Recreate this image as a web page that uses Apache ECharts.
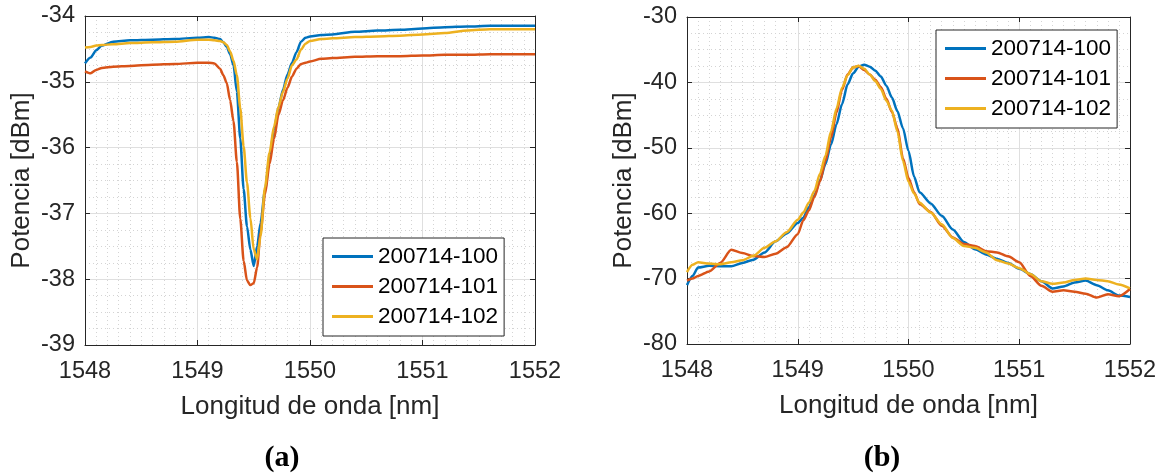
<!DOCTYPE html>
<html>
<head>
<meta charset="utf-8">
<script src="https://cdn.jsdelivr.net/npm/echarts@6/dist/echarts.min.js"></script>
<style>
  html, body { margin: 0; padding: 0; background: #ffffff; }
  #chart { width: 1164px; height: 476px; }
</style>
</head>
<body>
<div id="chart"></div>
<script>
// Sample names shown in both legends
const sampleNames = ['200714-100', '200714-101', '200714-102'];
const lineColors = ['#0072BD', '#D95319', '#EDB120'];

// (a) transmission dip: wavelength [nm] and power [dBm]
const wavelengthA = [
  1548.00, 1548.05, 1548.10, 1548.15, 1548.25, 1548.40, 1548.60, 1548.80, 1549.00, 1549.10,
  1549.15, 1549.20, 1549.23, 1549.26, 1549.29, 1549.32, 1549.35, 1549.38, 1549.41, 1549.44,
  1549.47, 1549.50, 1549.53, 1549.56, 1549.60, 1549.64, 1549.68, 1549.72, 1549.76, 1549.80,
  1549.84, 1549.88, 1549.92, 1549.96, 1550.00, 1550.10, 1550.20, 1550.40, 1550.60, 1550.80,
  1551.00, 1551.20, 1551.40, 1551.60, 1551.80, 1552.00
];
const powerA100 = [
  -34.72, -34.63, -34.52, -34.45, -34.39, -34.37, -34.36, -34.35, -34.33, -34.32,
  -34.33, -34.35, -34.40, -34.47, -34.58, -34.75, -35.15, -35.86, -36.63, -37.20,
  -37.55, -37.80, -37.50, -37.15, -36.65, -36.16, -35.73, -35.39, -35.12, -34.89,
  -34.71, -34.55, -34.39, -34.33, -34.31, -34.29, -34.28, -34.24, -34.22, -34.21,
  -34.19, -34.17, -34.16, -34.15, -34.15, -34.15
];
const powerA101 = [
  -34.84, -34.87, -34.82, -34.79, -34.77, -34.76, -34.74, -34.73, -34.71, -34.71,
  -34.72, -34.80, -34.90, -35.02, -35.28, -35.60, -36.22, -37.08, -37.72, -38.02,
  -38.09, -38.06, -37.82, -37.30, -36.71, -36.25, -35.87, -35.50, -35.28, -35.09,
  -34.92, -34.80, -34.73, -34.71, -34.69, -34.65, -34.64, -34.62, -34.61, -34.61,
  -34.60, -34.59, -34.59, -34.58, -34.58, -34.58
];
const powerA102 = [
  -34.48, -34.47, -34.45, -34.44, -34.43, -34.41, -34.40, -34.39, -34.36, -34.36,
  -34.37, -34.38, -34.40, -34.44, -34.54, -34.68, -34.90, -35.40, -35.98, -36.53,
  -37.07, -37.55, -37.70, -37.35, -36.60, -36.08, -35.68, -35.38, -35.15, -34.95,
  -34.75, -34.66, -34.51, -34.42, -34.38, -34.35, -34.34, -34.32, -34.31, -34.30,
  -34.28, -34.26, -34.22, -34.20, -34.20, -34.20
];

// (b) reflection peak: wavelength [nm] and power [dBm]
const wavelengthB = [
  1548.00, 1548.05, 1548.10, 1548.20, 1548.30, 1548.40, 1548.50, 1548.60, 1548.70, 1548.80,
  1548.90, 1549.00, 1549.05, 1549.10, 1549.15, 1549.20, 1549.25, 1549.30, 1549.35, 1549.40,
  1549.45, 1549.50, 1549.55, 1549.60, 1549.65, 1549.70, 1549.75, 1549.80, 1549.85, 1549.90,
  1549.95, 1550.00, 1550.05, 1550.10, 1550.20, 1550.30, 1550.40, 1550.50, 1550.60, 1550.70,
  1550.80, 1550.90, 1551.00, 1551.10, 1551.20, 1551.30, 1551.40, 1551.50, 1551.60, 1551.70,
  1551.80, 1551.90, 1552.00
];
const powerB100 = [
  -71.0, -69.6, -68.3, -68.05, -68.1, -68.12, -67.6, -67.1, -66.0, -64.3,
  -63.1, -61.5, -60.7, -59.1, -57.3, -55.0, -52.5, -49.5, -46.4, -43.3,
  -40.3, -38.6, -37.6, -37.3, -37.6, -38.2, -39.1, -40.5, -42.3, -44.4,
  -47.0, -50.5, -54.4, -56.8, -58.5, -60.4, -62.5, -64.4, -65.5, -66.3,
  -67.0, -67.6, -68.5, -69.3, -70.4, -71.5, -71.2, -70.6, -70.3, -71.0,
  -71.8, -72.6, -72.8
];
const powerB101 = [
  -70.3, -70.0, -69.6, -68.9, -67.6, -65.6, -66.1, -66.55, -66.7, -66.2,
  -65.2, -63.2, -61.1, -59.6, -57.5, -55.2, -52.0, -48.5, -44.6, -41.1,
  -38.8, -37.7, -37.5, -38.1, -38.8, -39.6, -40.7, -42.5, -44.5, -47.0,
  -51.6, -54.6, -56.8, -58.6, -59.8, -61.9, -63.7, -64.7, -65.0, -65.8,
  -66.0, -66.6, -67.5, -69.6, -71.1, -72.0, -71.8, -72.0, -72.3, -72.9,
  -72.4, -72.7, -71.6
];
const powerB102 = [
  -69.0, -67.9, -67.5, -67.7, -67.8, -67.5, -67.2, -66.5, -65.3, -64.3,
  -62.9, -61.0, -59.9, -58.4, -56.6, -54.0, -51.2, -47.5, -44.0, -40.8,
  -38.9, -37.7, -37.45, -37.9, -38.8, -39.8, -41.0, -42.8, -44.3, -47.5,
  -52.0, -55.2, -57.0, -58.4, -59.9, -61.7, -63.8, -65.0, -65.3, -66.0,
  -67.2, -67.7, -68.4, -69.3, -70.4, -70.8, -70.6, -70.2, -70.0, -70.2,
  -70.4, -70.9, -71.5
];

// Axis ranges
const xRange = { min: 1548, max: 1552, interval: 1 };
const yRangeA = { min: -39, max: -34, interval: 1 };
const yRangeB = { min: -80, max: -30, interval: 10 };

const xTitle = 'Longitud de onda [nm]';
const yTitle = 'Potencia [dBm]';
const panelTags = ['(a)', '(b)'];

const INK = '#262626';
const SANS = '"Liberation Sans", Arial, Helvetica, sans-serif';
const pairs = (xs, ys) => xs.map((x, i) => [x, ys[i]]);
const plainNumber = (v) => String(v);

function mainX(gridIndex) {
  return {
    type: 'value', gridIndex, position: 'bottom',
    min: xRange.min, max: xRange.max, interval: xRange.interval,
    name: xTitle, nameLocation: 'middle', nameGap: 49,
    nameTextStyle: { fontFamily: SANS, fontSize: 26, color: INK },
    axisLine: { show: true, onZero: false, lineStyle: { color: INK, width: 1 } },
    axisTick: { show: true, inside: true, length: 5, lineStyle: { color: INK } },
    axisLabel: { margin: 15, fontFamily: SANS, fontSize: 23.5, color: INK, formatter: plainNumber },
    splitLine: { show: true, lineStyle: { color: '#dfdfdf', width: 1 } },
    minorTick: { show: false, splitNumber: 10 },
    minorSplitLine: { show: true, lineStyle: { color: '#d4d4d4', width: 1, type: [1, 3] } }
  };
}
function boxX(gridIndex) {
  return {
    type: 'value', gridIndex, position: 'top',
    min: xRange.min, max: xRange.max, interval: xRange.interval,
    axisLine: { show: true, onZero: false, lineStyle: { color: INK, width: 1 } },
    axisTick: { show: true, inside: true, length: 5, lineStyle: { color: INK } },
    axisLabel: { show: false }, splitLine: { show: false }
  };
}
function mainY(gridIndex, r) {
  return {
    type: 'value', gridIndex, position: 'left',
    min: r.min, max: r.max, interval: r.interval,
    name: yTitle, nameLocation: 'middle', nameGap: 50.5, nameRotate: 90,
    nameTextStyle: { fontFamily: SANS, fontSize: 26, color: INK },
    axisLine: { show: true, onZero: false, lineStyle: { color: INK, width: 1 } },
    axisTick: { show: true, inside: true, length: 5, lineStyle: { color: INK } },
    axisLabel: { margin: 10, fontFamily: SANS, fontSize: 23.5, color: INK, formatter: plainNumber },
    splitLine: { show: true, lineStyle: { color: '#dfdfdf', width: 1 } },
    minorTick: { show: false, splitNumber: 4 },
    minorSplitLine: { show: true, lineStyle: { color: '#d4d4d4', width: 1, type: [1, 3] } }
  };
}
function boxY(gridIndex, r) {
  return {
    type: 'value', gridIndex, position: 'right',
    min: r.min, max: r.max, interval: r.interval,
    axisLine: { show: true, onZero: false, lineStyle: { color: INK, width: 1 } },
    axisTick: { show: true, inside: true, length: 5, lineStyle: { color: INK } },
    axisLabel: { show: false }, splitLine: { show: false }
  };
}

function lineSeries(name, idx, axisIndex, data) {
  return {
    type: 'line', name, data,
    xAxisIndex: axisIndex, yAxisIndex: axisIndex,
    showSymbol: false, symbol: 'none',
    smooth: 0.25, smoothMonotone: 'x',
    lineStyle: { color: lineColors[idx], width: 2.5 },
    itemStyle: { color: lineColors[idx] },
    z: 3 + idx
  };
}

function legendAt(left, top) {
  return {
    data: sampleNames, left, top, orient: 'vertical',
    icon: 'rect', itemWidth: 41, itemHeight: 3, itemGap: 7,
    padding: [7, 6, 8, 9],
    backgroundColor: '#ffffff', borderColor: INK, borderWidth: 1,
    textStyle: { fontFamily: SANS, fontSize: 22.5, color: '#000000' },
    selectedMode: false
  };
}

const seriesA = [powerA100, powerA101, powerA102];
const seriesB = [powerB100, powerB101, powerB102];

const option = {
  animation: false,
  backgroundColor: '#ffffff',
  grid: [
    { left: 85, top: 16, width: 450, height: 329 },
    { left: 687, top: 17, width: 443, height: 327 }
  ],
  xAxis: [mainX(0), mainX(1), boxX(0), boxX(1)],
  yAxis: [mainY(0, yRangeA), mainY(1, yRangeB), boxY(0, yRangeA), boxY(1, yRangeB)],
  legend: [legendAt(323, 238), legendAt(936, 30)],
  series: [
    ...seriesA.map((ys, i) => lineSeries(sampleNames[i], i, 0, pairs(wavelengthA, ys))),
    ...seriesB.map((ys, i) => lineSeries(sampleNames[i], i, 1, pairs(wavelengthB, ys)))
  ],
  // panel tags under each plot, anchored at their centre
  graphic: panelTags.map((t, i) => ({
    type: 'text', x: i === 0 ? 282 : 882, y: 458,
    style: { text: t, font: 'bold 30px "Liberation Serif", "Times New Roman", serif', fill: '#000', align: 'center', verticalAlign: 'middle' }
  }))
};

const chart = echarts.init(document.getElementById('chart'), null, { renderer: 'canvas' });
chart.setOption(option);
</script>
</body>
</html>
